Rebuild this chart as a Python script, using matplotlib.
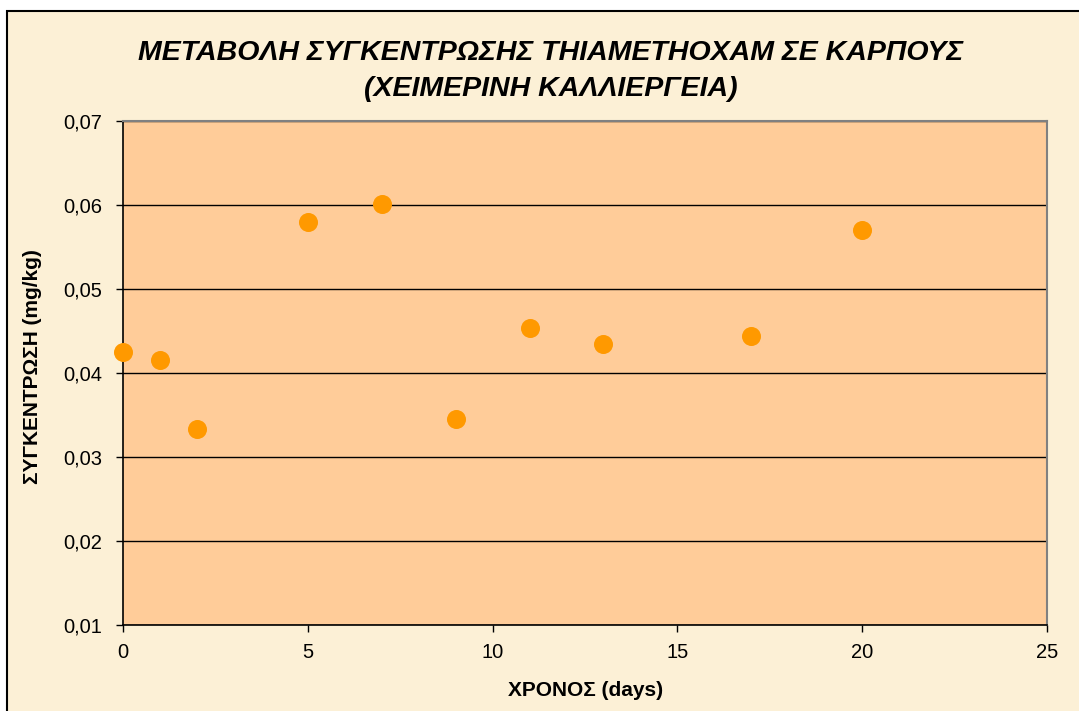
import matplotlib
matplotlib.use("Agg")
import matplotlib.pyplot as plt
from matplotlib.patches import Rectangle

# Data
days = [0, 1, 2, 5, 7, 9, 11, 13, 17, 20]
conc = [0.0425, 0.0416, 0.0333, 0.0580, 0.0601, 0.0345, 0.0453, 0.0434, 0.0444, 0.0570]

yticks = [0.01, 0.02, 0.03, 0.04, 0.05, 0.06, 0.07]
ytick_labels = ["0,01", "0,02", "0,03", "0,04", "0,05", "0,06", "0,07"]
xticks = [0, 5, 10, 15, 20, 25]

title = "ΜΕΤΑΒΟΛΗ ΣΥΓΚΕΝΤΡΩΣΗΣ ΤΗΙΑΜΕΤΗΟΧΑΜ ΣΕ ΚΑΡΠΟΥΣ\n(ΧΕΙΜΕΡΙΝΗ ΚΑΛΛΙΕΡΓΕΙΑ)"
xlabel = "ΧΡΟΝΟΣ (days)"
ylabel = "ΣΥΓΚΕΝΤΡΩΣΗ (mg/kg)"

plt.rcParams["font.family"] = ["Liberation Sans", "DejaVu Sans"]

W, H = 1079, 711
fig = plt.figure(figsize=(W / 100, H / 100), dpi=100)
fig.patch.set_facecolor("white")

# chart area background with black border (runs off right/bottom edge)
bg = Rectangle((7 / W, -0.05), 1.1, 1 - 11 / H + 0.05,
               transform=fig.transFigure, facecolor="#FCF0D6",
               edgecolor="black", linewidth=1.5, zorder=-5)
fig.add_artist(bg)

ax = fig.add_axes([123 / W, 1 - 625 / H, (1047 - 123) / W, (625 - 121) / H])
ax.set_facecolor("#FFCC99")

ax.plot(days, conc, linestyle="none", marker="o", markersize=13.7,
        color="#FF9900", markeredgewidth=0, clip_on=False, zorder=3)

ax.set_xlim(0, 25)
ax.set_ylim(0.01, 0.07)
ax.set_xticks(xticks)
ax.set_yticks(yticks)
ax.set_yticklabels(ytick_labels)
ax.tick_params(labelsize=14.5, length=5, width=1, colors="black", direction="out")
ax.tick_params(axis="x", pad=8)
ax.tick_params(axis="y", pad=10)

ax.yaxis.grid(True, color="black", linewidth=1)
ax.set_axisbelow(True)
for side in ["left", "bottom"]:
    ax.spines[side].set_color("black")
    ax.spines[side].set_linewidth(1.2)
for side in ["top", "right"]:
    ax.spines[side].set_color("#808080")
    ax.spines[side].set_linewidth(1.5)

fig.text(551 / W, 1 - 71 / H, title, ha="center", va="center",
         fontsize=20.5, fontweight="bold", fontstyle="italic", linespacing=1.45)
fig.text(586 / W, 1 - 691 / H, xlabel, ha="center", va="center",
         fontsize=15, fontweight="bold")
fig.text(33 / W, 1 - 367 / H, ylabel, ha="center", va="center",
         fontsize=15, fontweight="bold", rotation=90)

fig.savefig("out.png", dpi=100)
